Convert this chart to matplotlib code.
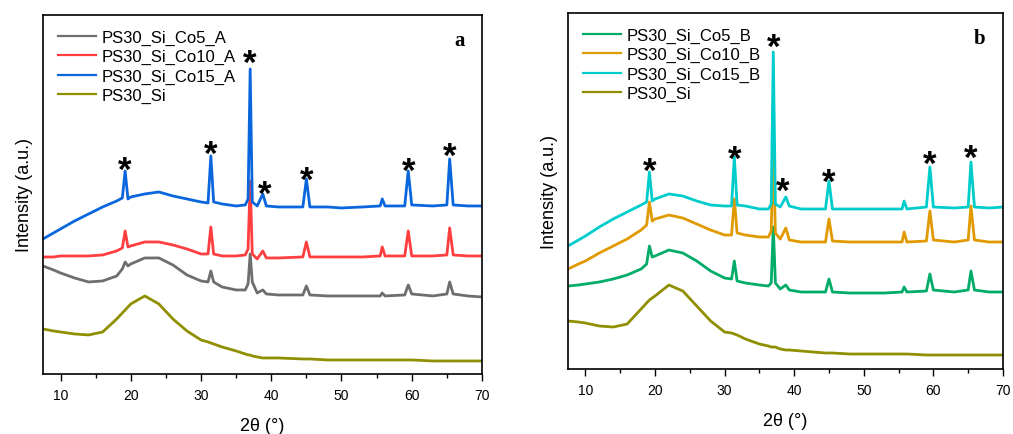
import matplotlib.pyplot as plt
from matplotlib.ticker import MultipleLocator

plt.rcParams['font.family'] = ['Liberation Sans', 'DejaVu Sans']

#%% Data (intensity in a.u.)
two_theta = [7.5, 9, 10, 12, 14, 16, 18, 18.8, 19.2, 19.6, 20, 22, 24, 26, 28, 30,
             31.0, 31.4, 31.8, 33, 35, 36.3, 36.7, 37.0, 37.3, 38.0, 38.8, 39.3, 41,
             44.5, 45.0, 45.5, 48, 50, 53, 55.5, 55.8, 56.2, 59.0, 59.5, 60.0, 63,
             65.0, 65.4, 65.9, 68, 70]

# panel a
co5_a = [108, 104, 101, 96, 92, 93, 98, 105, 112, 108, 110, 116, 116, 109, 99, 93,
         92, 103, 92, 87, 84, 84, 90, 120, 92, 81, 84, 80, 79, 79, 88, 79, 78, 78,
         78, 78, 81, 78, 79, 89, 80, 78, 80, 92, 80, 78, 77]
co10_a = [117, 117, 118, 118, 118, 119, 123, 126, 143, 127, 128, 132, 132, 129, 125,
          120, 120, 147, 120, 118, 118, 119, 125, 193, 120, 115, 123, 116, 116, 117,
          132, 117, 117, 117, 117, 118, 127, 118, 118, 143, 118, 118, 119, 146, 119,
          118, 118]
co15_a = [135, 141, 145, 153, 160, 167, 173, 176, 203, 175, 177, 180, 182, 178, 175,
          172, 171, 218, 172, 170, 168, 169, 175, 305, 172, 168, 180, 168, 167, 167,
          195, 167, 167, 166, 167, 168, 175, 168, 168, 203, 169, 168, 169, 215, 169,
          168, 168]
si_a = [45, 43, 42, 40, 39, 42, 55, 61, 64, 67, 70, 78, 70, 55, 43, 34, 32, 31, 30,
        27, 23, 20, 19, 19, 18, 17, 16, 16, 16, 15, 15, 15, 14, 14, 14, 14, 14, 14,
        14, 14, 14, 13, 13, 13, 13, 13, 13]

# panel b
co5_b = [83, 84, 85, 87, 90, 94, 100, 105, 123, 112, 113, 119, 116, 108, 98, 91, 90,
         108, 88, 86, 84, 83, 86, 142, 86, 80, 84, 79, 77, 77, 90, 77, 76, 76, 76, 77,
         82, 77, 78, 95, 79, 77, 79, 98, 79, 77, 77]
co10_b = [100, 105, 108, 116, 123, 130, 139, 144, 167, 148, 150, 154, 151, 145, 139,
          134, 134, 170, 136, 134, 132, 132, 138, 225, 136, 130, 141, 129, 127, 127,
          150, 128, 127, 127, 127, 127, 137, 127, 128, 158, 129, 127, 129, 163, 129,
          127, 127]
co15_b = [123, 129, 133, 142, 150, 157, 164, 167, 197, 168, 170, 175, 173, 168, 164,
          163, 163, 212, 164, 163, 160, 160, 165, 317, 165, 162, 172, 163, 160, 160,
          188, 160, 160, 160, 160, 160, 168, 160, 162, 202, 162, 161, 162, 207, 162,
          161, 162]
si_b = [48, 47, 46, 43, 42, 45, 60, 66, 69, 71, 73, 84, 78, 63, 48, 37, 36, 35, 34,
        30, 25, 23, 22, 22, 22, 20, 19, 19, 18, 16, 16, 16, 15, 15, 15, 15, 15, 15,
        14, 14, 14, 14, 14, 14, 14, 14, 14]

# peak marks (*)
star_x_a = [19.2, 31.4, 37.0, 39.0, 45.0, 59.5, 65.4]
star_y_a = [213, 229, 320, 189, 203, 212, 227]
star_x_b = [19.2, 31.4, 37.0, 38.4, 45.0, 59.5, 65.4]
star_y_b = [207, 219, 331, 187, 196, 214, 220]

labels_a = ['PS30_Si_Co5_A', 'PS30_Si_Co10_A', 'PS30_Si_Co15_A', 'PS30_Si']
labels_b = ['PS30_Si_Co5_B', 'PS30_Si_Co10_B', 'PS30_Si_Co15_B', 'PS30_Si']
colors_a = ['#6e6e6e', '#ff3f3f', '#0a66dc', '#8f8f00']
colors_b = ['#00ac68', '#e09a00', '#00cccc', '#8f8f00']

#%% Figure
fig = plt.figure(figsize=(10.13, 4.35), dpi=100)
ax_a = fig.add_axes([0.0424, 0.138, 0.4334, 0.8253])
ax_b = fig.add_axes([0.5607, 0.1494, 0.4294, 0.8184])

panels = [
    (ax_a, [co5_a, co10_a, co15_a, si_a], labels_a, colors_a, star_x_a, star_y_a, 359, 'a'),
    (ax_b, [co5_b, co10_b, co15_b, si_b], labels_b, colors_b, star_x_b, star_y_b, 356, 'b'),
]

for ax, series, labels, colors, sx, sy, ytop, letter in panels:
    for vals, lab, col in zip(series, labels, colors):
        ax.plot(two_theta, vals, color=col, lw=2.0, label=lab)
    for x, y in zip(sx, sy):
        ax.annotate('*', (x, y), xytext=(0, -7), textcoords='offset points',
                    ha='center', va='center', fontsize=25, fontweight='bold')
    ax.set_xlim(7.5, 70)
    ax.set_ylim(0, ytop)
    ax.xaxis.set_major_locator(MultipleLocator(10))
    ax.xaxis.set_minor_locator(MultipleLocator(5))
    ax.tick_params(axis='x', which='major', direction='out', length=5, width=1,
                   labelsize=10, pad=5)
    ax.tick_params(axis='x', which='minor', direction='out', length=3, width=1)
    ax.set_yticks([])
    for sp in ax.spines.values():
        sp.set_linewidth(1.2)
    ax.set_xlabel('2θ (°)', fontsize=13, labelpad=11)
    ax.set_ylabel('Intensity (a.u.)', fontsize=13, labelpad=7)
    leg = ax.legend(loc='upper left', frameon=False, fontsize=12, handlelength=2.3,
                    handletextpad=0.3, labelspacing=0.25, borderaxespad=0.5,
                    borderpad=0.4)
    for line in leg.get_lines():
        line.set_linewidth(1.6)
    ax.text(0.96, 0.93, letter, transform=ax.transAxes, ha='right', va='center',
            fontsize=15, fontweight='bold', family='Liberation Serif')

fig.savefig('out.png', dpi=100)
